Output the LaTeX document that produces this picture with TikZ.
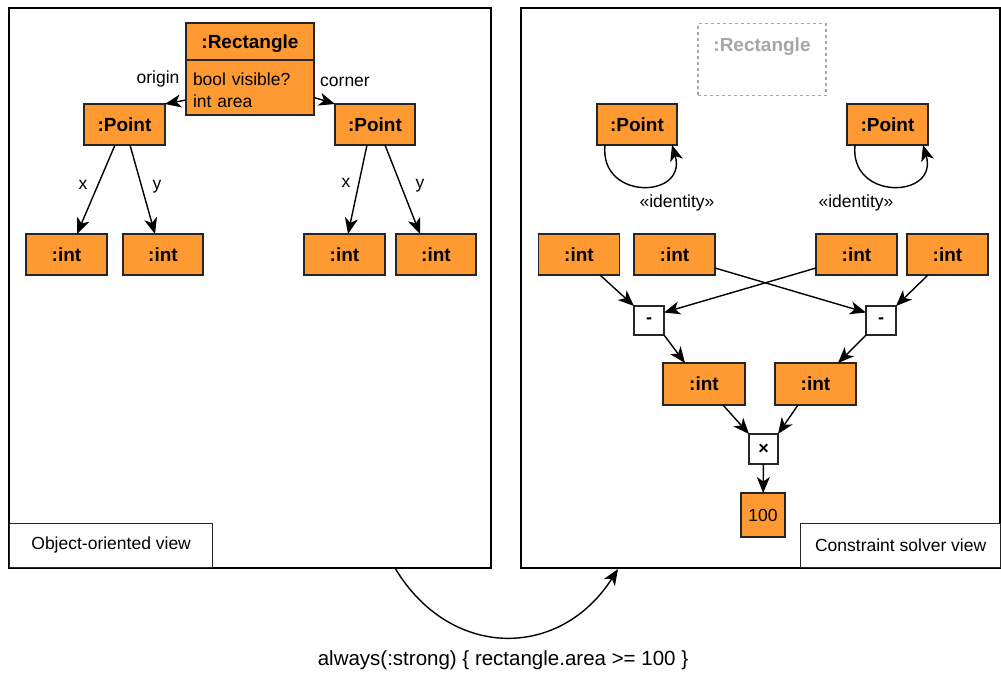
\documentclass[tikz,border=0pt]{standalone}
\usepackage{fontspec}
\setmainfont{Liberation Sans}
\usetikzlibrary{arrows.meta}
\definecolor{objfill}{HTML}{FF9A33}
\definecolor{ghost}{HTML}{A6A6A6}
\tikzset{
  obj/.style={draw=black!85, fill=objfill, line width=1.3pt, inner sep=0pt, outer sep=0pt,
    text height=13.5pt, text depth=0pt, font=\fontsize{19}{22}\selectfont\bfseries},
  op/.style={draw=black!85, fill=white, line width=1.3pt, inner sep=0pt, outer sep=0pt,
    minimum width=30pt, minimum height=29pt, font=\fontsize{18}{20}\selectfont\bfseries},
  lbl/.style={inner sep=1pt, font=\fontsize{17.5}{20}\selectfont},
  tag/.style={draw=black!85, fill=white, line width=1.3pt, inner sep=0pt, anchor=south west,
    minimum height=44pt, font=\fontsize{17.5}{20}\selectfont},
  arr/.style={line width=1.4pt, -{Stealth[length=16pt,width=13pt,inset=4.5pt]}}
}
\begin{document}
\begin{tikzpicture}[x=1pt, y=-1pt]
  \useasboundingbox (0,0) rectangle (1001,673);
  % the two views
  \draw[line width=1.3pt] (9,8) rectangle (491,568);
  \draw[line width=1.3pt] (521,8) rectangle (1000,568);
  \node[tag, minimum width=203pt] (ooview) at (9,568) {Object-oriented view};
  \node[tag, minimum width=200pt] (csview) at (800,568) {Constraint solver view};

  % object-oriented view
  \node[obj, minimum width=128pt, minimum height=37pt] (rh) at (250,41.5) {:Rectangle};
  \node[obj, minimum width=128pt, minimum height=55pt, text width=114pt, align=left,
    text height=, text depth=, font=\fontsize{17.5}{22}\selectfont]
    (rb) at (250,87.5) {\rule{0pt}{18pt}bool visible?\\int area};
  \node[obj, minimum width=81pt, minimum height=41pt] (pl) at (124.5,124.5) {:Point};
  \node[obj, minimum width=80pt, minimum height=41pt] (pr) at (375,124.5) {:Point};
  \node[obj, minimum width=81pt, minimum height=41pt] (i1) at (66.5,254.5) {:int};
  \node[obj, minimum width=80pt, minimum height=41pt] (i2) at (163,254.5) {:int};
  \node[obj, minimum width=81pt, minimum height=41pt] (i3) at (344.5,254.5) {:int};
  \node[obj, minimum width=80pt, minimum height=41pt] (i4) at (436,254.5) {:int};

  \draw[arr] ([yshift=-12.5pt]rb.west) -- (pl.north east);
  \draw[arr] ([yshift=-10pt]rb.east) -- (pr.north west);
  \node[lbl] (lorigin) at (158,79) {origin};
  \node[lbl] (lcorner) at (345,82) {corner};
  \draw[arr] ([xshift=-9.5pt]pl.south) -- ([xshift=10.5pt]i1.north);
  \draw[arr] ([xshift=5.5pt]pl.south) -- ([xshift=-8pt]i2.north);
  \draw[arr] ([xshift=-8pt]pr.south) -- ([xshift=3.5pt]i3.north);
  \draw[arr] ([xshift=10pt]pr.south) -- ([xshift=-16pt]i4.north);
  \node[lbl] (lx1) at (83,185) {x};
  \node[lbl] (ly1) at (157,187) {y};
  \node[lbl] (lx2) at (346,183) {x};
  \node[lbl] (ly2) at (420,186) {y};

  % constraint solver view
  \node[draw=ghost, dashed, line width=1.3pt, inner sep=0pt, anchor=north, minimum width=128pt,
    text height=27.5pt, text depth=44.5pt, text=ghost, font=\fontsize{19}{22}\selectfont\bfseries]
    (ghostrect) at (762,23) {:Rectangle};
  \node[obj, minimum width=80pt, minimum height=41pt] (ql) at (637,124.5) {:Point};
  \node[obj, minimum width=81pt, minimum height=41pt] (qr) at (887.5,124.5) {:Point};
  \draw[arr] ([xshift=8pt]ql.south west) .. controls +(-6,56) and +(16,54) .. ([xshift=-5pt]ql.south east);
  \draw[arr] ([xshift=8pt]qr.south west) .. controls +(-6,56) and +(16,54) .. ([xshift=-5pt]qr.south east);
  \node[lbl] (lid1) at (677,203) {«identity»};
  \node[lbl] (lid2) at (856,203) {«identity»};

  \node[obj, minimum width=81pt, minimum height=41pt] (j1) at (579,254.5) {:int};
  \node[obj, minimum width=81pt, minimum height=41pt] (j2) at (674.5,254.5) {:int};
  \node[obj, minimum width=81pt, minimum height=41pt] (j3) at (856.5,254.5) {:int};
  \node[obj, minimum width=81pt, minimum height=41pt] (j4) at (947.5,254.5) {:int};
  \node[op] (m1) at (649,320.5) {-};
  \node[op] (m2) at (881,320.5) {-};
  \node[obj, minimum width=82pt, minimum height=42pt] (k1) at (704,384) {:int};
  \node[obj, minimum width=81pt, minimum height=42pt] (k2) at (815.5,384) {:int};
  \node[op, minimum width=29pt, minimum height=30pt] (mx) at (763.5,449) {×};
  \node[obj, minimum width=44pt, minimum height=44pt, text height=12.5pt,
    font=\fontsize{17.5}{20}\selectfont] (hundred) at (763,515) {100};

  \draw[arr] ([xshift=21pt]j1.south) -- (m1.north west);
  \draw[arr] ([yshift=-13.5pt]j2.east) -- ([yshift=8pt]m2.west);
  \draw[arr] ([yshift=-13.5pt]j3.west) -- ([yshift=8pt]m1.east);
  \draw[arr] ([xshift=-19.5pt]j4.south) -- (m2.north east);
  \draw[arr] (m1.south east) -- ([xshift=-19pt]k1.north);
  \draw[arr] (m2.south west) -- ([xshift=22.5pt]k2.north);
  \draw[arr] ([xshift=19pt]k1.south) -- (mx.north west);
  \draw[arr] ([xshift=-17.5pt]k2.south) -- (mx.north east);
  \draw[arr] (mx) -- (hundred);

  % the constraint that links the views
  \coordinate (src) at (395,568);
  \coordinate (dst) at (618,569);
  \draw[arr] (src) .. controls (450,660) and (560,660) .. (dst);
  \node[lbl, font=\fontsize{20.5}{24}\selectfont] (rule) at (503,660) {always(:strong) \{ rectangle.area >= 100 \}};
\end{tikzpicture}
\end{document}
